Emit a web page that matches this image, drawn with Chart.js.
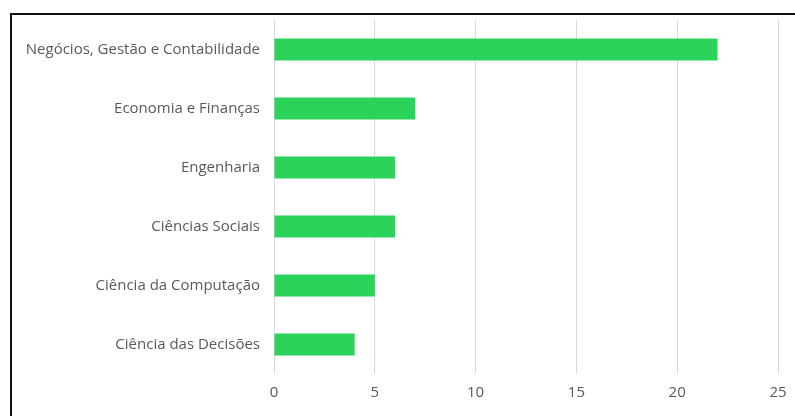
<!DOCTYPE html>
<html lang="pt">
<head>
  <meta charset="UTF-8">
  <title>Áreas de formação</title>
  <script src="https://cdn.jsdelivr.net/npm/chart.js"></script>
  <style>
    body {
      margin: 0;
      background-color: #ffffff;
      overflow: hidden;
    }
    .frame {
      position: absolute;
      left: 10px;
      top: 13px;
      width: 800px;
      height: 420px;
      border-top: 2px solid #111;
      border-left: 2px solid #111;
    }
    .chart-box {
      position: relative;
      width: 790px;
      height: 400px;
    }
  </style>
</head>
<body>
  <div class="frame">
    <div class="chart-box">
      <canvas id="areasChart"></canvas>
    </div>
  </div>

  <script>
    const areas = [
      'Negócios, Gestão e Contabilidade',
      'Economia e Finanças',
      'Engenharia',
      'Ciências Sociais',
      'Ciência da Computação',
      'Ciência das Decisões'
    ];
    const counts = [22, 7, 6, 6, 5, 4];
    const xTicks = [0, 5, 10, 15, 20, 25];

    const textColor = '#595959';
    const fontFamily = '"Open Sans", Arial, sans-serif';

    const ctx = document.getElementById('areasChart').getContext('2d');
    new Chart(ctx, {
      type: 'bar',
      data: {
        labels: areas,
        datasets: [{
          data: counts,
          backgroundColor: '#2bd35b',
          borderWidth: 0,
          categoryPercentage: 1,
          barPercentage: 0.37
        }]
      },
      options: {
        indexAxis: 'y',
        responsive: true,
        maintainAspectRatio: false,
        animation: false,
        layout: {
          padding: { top: 5, right: 24, bottom: 0, left: 0 }
        },
        plugins: {
          legend: { display: false },
          tooltip: { enabled: false }
        },
        scales: {
          x: {
            min: 0,
            max: 25,
            afterFit: scale => {
              scale.height = 41;
              scale.paddingLeft = 0;
              scale.paddingRight = 0;
            },
            afterBuildTicks: scale => {
              scale.ticks = xTicks.map(v => ({ value: v }));
            },
            grid: {
              color: '#d9d9d9',
              lineWidth: 1,
              drawTicks: false
            },
            border: { display: false },
            ticks: {
              color: textColor,
              padding: 10,
              font: { family: fontFamily, size: 15 }
            }
          },
          y: {
            afterFit: scale => {
              scale.width = 262;
              scale.paddingTop = 0;
              scale.paddingBottom = 0;
            },
            grid: { display: false, drawTicks: false },
            border: { display: false },
            ticks: {
              color: textColor,
              padding: 14,
              font: { family: fontFamily, size: 15 }
            }
          }
        }
      }
    });
  </script>
</body>
</html>
